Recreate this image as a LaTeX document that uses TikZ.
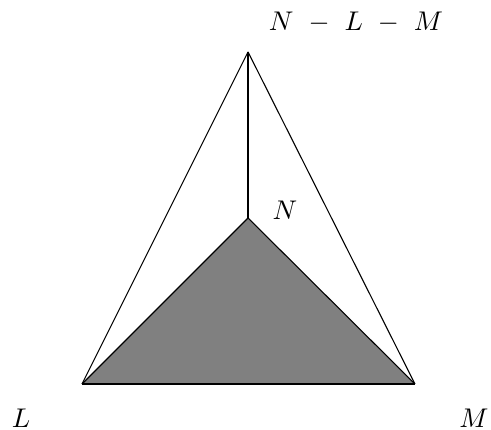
\documentclass[tikz,border=0pt]{standalone}
\usepackage{amsmath,amssymb}
\usepackage{tikz}
\usetikzlibrary{positioning}

\tikzset{
  edge/.style={black,line width=0.4pt},
  face/.style={fill=gray},
  vlabel/.style={inner sep=0pt}
}

\begin{document}
\begin{tikzpicture}
  \useasboundingbox (0,0) rectangle (6.388,5.594);
  % corners of the simplex
  \coordinate (top) at (3.227,4.918);
  \coordinate (l) at (1.067,0.598);
  \coordinate (m) at (5.399,0.598);
  \coordinate (n) at (3.227,2.758);
  % shaded face
  \fill[face] (l) -- (m) -- (n) -- cycle;
  \draw[edge] (top) -- (l);
  \draw[edge] (top) -- (m);
  \draw[edge] (top) -- (n);
  \draw[edge] (l) -- (m);
  \draw[edge] (l) -- (n);
  \draw[edge] (m) -- (n);
  % labels
  \node[vlabel] (labnlm) at (4.632,5.308) {$N\ -\ L\ -\ M$};
  \node[vlabel] (labn) at (3.708,2.862) {$N$};
  \node[vlabel] (labl) at (0.273,0.156) {$L$};
  \node[vlabel] (labm) at (6.167,0.156) {$M$};
\end{tikzpicture}
\end{document}
